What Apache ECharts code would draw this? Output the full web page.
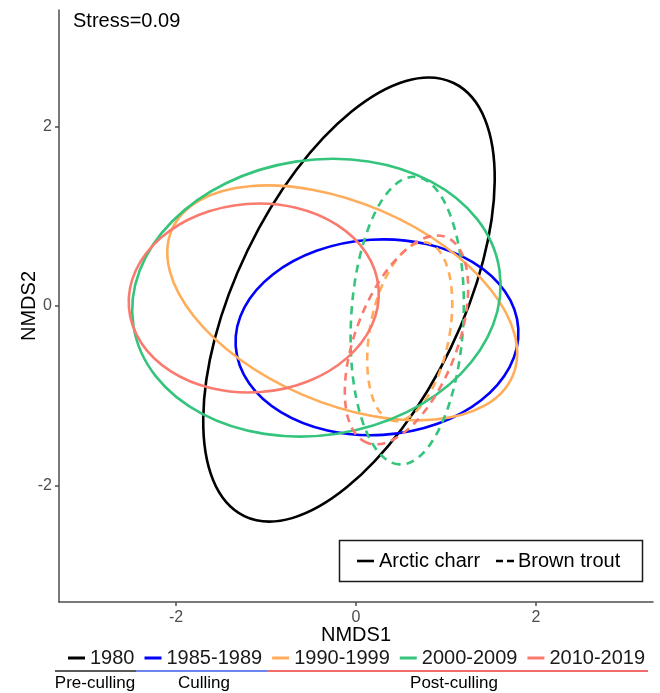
<!DOCTYPE html>
<html>
<head>
<meta charset="utf-8">
<script src="https://cdn.jsdelivr.net/npm/echarts@6/dist/echarts.min.js"></script>
<style>
  html, body { margin: 0; padding: 0; background: #fff; }
  #main { width: 660px; height: 693px; }
</style>
</head>
<body>
<div id="main"></div>
<script>
// periods (one colour each)
var periods = ['1980', '1985-1989', '1990-1999', '2000-2009', '2010-2019'];
var periodColors = ['#000000', '#0000FF', '#FFAD5A', '#34C47C', '#FA7A6E'];
// ellipse = [centre NMDS1, centre NMDS2, semi-major, semi-minor, angle deg]
var charrEllipses = [
  [-0.078, 0.072, 2.672, 1.252, 64.2],
  [0.233, -0.349, 1.573, 1.086, 3.5],
  [-0.153, 0.035, 2.06, 1.112, -23.2],
  [-0.44, 0.093, 2.057, 1.529, 8.7],
  [-1.136, 0.089, 1.391, 1.048, 4.3]
];
var troutEllipses = [
  null,
  null,
  [0.597, -0.286, 1.008, 0.442, 79.4],
  [0.569, -0.163, 1.6, 0.624, 86.9],
  [0.561, -0.378, 1.224, 0.564, 69]
];
var tickValues = [-2, 0, 2];
var phases = ['Pre-culling', 'Culling', 'Post-culling'];
var stressText = 'Stress=0.09';

var FONT = 'Liberation Sans, Arial, sans-serif';
var myChart = echarts.init(document.getElementById('main'));

function ellipseItem(params, api) {
  var c = api.coord([api.value(0), api.value(1)]);
  var rx = api.size([api.value(2), api.value(2)])[0];
  var ry = api.size([api.value(3), api.value(3)])[0];
  var dashed = api.value(5) === 1;
  return {
    type: 'ellipse',
    x: c[0],
    y: c[1],
    rotation: api.value(4) * Math.PI / 180,
    shape: { cx: 0, cy: 0, rx: rx, ry: ry },
    style: {
      fill: 'none',
      stroke: api.visual('color'),
      lineWidth: 2.6,
      lineDash: dashed ? [8, 6] : null
    }
  };
}

let series = periods.map(function (p, i) {
  let data = [charrEllipses[i].concat([0])];
  if (troutEllipses[i]) data.push(troutEllipses[i].concat([1]));
  return {
    name: p,
    type: 'custom',
    renderItem: ellipseItem,
    itemStyle: { color: periodColors[i] },
    encode: { x: 0, y: 1 },
    data: data,
    silent: true
  };
});

var axisCommon = {
  type: 'value',
  min: -3.3,
  max: 3.3,
  splitLine: { show: false },
  axisLine: { onZero: false, lineStyle: { color: '#4d4d4d', width: 1.5 } },
  axisTick: { length: 4, lineStyle: { color: '#4d4d4d', width: 1.5 }, customValues: tickValues },
  axisLabel: { color: '#4d4d4d', fontSize: 16, fontFamily: FONT, customValues: tickValues },
  nameLocation: 'middle',
  nameMoveOverlap: false,
  nameTextStyle: { color: '#000', fontSize: 20, fontFamily: FONT }
};

let option = {
  animation: false,
  backgroundColor: '#fff',
  grid: { left: 59, top: 10, width: 594, height: 592, containLabel: false },
  xAxis: Object.assign({}, axisCommon, {
    name: 'NMDS1', nameGap: 23,
    axisLabel: Object.assign({}, axisCommon.axisLabel, { margin: 8 })
  }),
  yAxis: Object.assign({}, axisCommon, {
    name: 'NMDS2', nameGap: 20,
    axisLabel: Object.assign({}, axisCommon.axisLabel, { margin: 7 })
  }),
  legend: {
    data: periods,
    left: 68,
    top: 648,
    padding: 0,
    icon: 'rect',
    itemWidth: 17,
    itemHeight: 3,
    itemGap: 10,
    selectedMode: false,
    textStyle: { color: '#1a1a1a', fontSize: 20, fontFamily: FONT }
  },
  graphic: [
    { type: 'text', left: 73, top: 11, style: { text: stressText, fontSize: 20, fontFamily: FONT, fill: '#000' } },
    // species key
    { type: 'rect', shape: { x: 339.5, y: 540.5, width: 303, height: 41 }, style: { fill: '#fff', stroke: '#1a1a1a', lineWidth: 1.5 } },
    { type: 'line', shape: { x1: 357, y1: 561, x2: 374, y2: 561 }, style: { stroke: '#000', lineWidth: 2.6 } },
    { type: 'text', x: 379, y: 561, style: { text: 'Arctic charr', fontSize: 20, fontFamily: FONT, fill: '#000', verticalAlign: 'middle' } },
    { type: 'line', shape: { x1: 496, y1: 561, x2: 514, y2: 561 }, style: { stroke: '#000', lineWidth: 2.6, lineDash: [7, 4] } },
    { type: 'text', x: 518, y: 561, style: { text: 'Brown trout', fontSize: 20, fontFamily: FONT, fill: '#000', verticalAlign: 'middle' } },
    // culling phases
    { type: 'line', shape: { x1: 55, y1: 671, x2: 136, y2: 671 }, style: { stroke: '#222', lineWidth: 1.6 } },
    { type: 'line', shape: { x1: 136, y1: 671, x2: 267, y2: 671 }, style: { stroke: '#3a5ce8', lineWidth: 1.6 } },
    { type: 'line', shape: { x1: 267, y1: 671, x2: 648, y2: 671 }, style: { stroke: '#f03a3a', lineWidth: 1.6 } },
    { type: 'text', x: 95, y: 683, style: { text: phases[0], fontSize: 17, fontFamily: FONT, fill: '#000', align: 'center', verticalAlign: 'middle' } },
    { type: 'text', x: 204, y: 683, style: { text: phases[1], fontSize: 17, fontFamily: FONT, fill: '#000', align: 'center', verticalAlign: 'middle' } },
    { type: 'text', x: 454, y: 683, style: { text: phases[2], fontSize: 17, fontFamily: FONT, fill: '#000', align: 'center', verticalAlign: 'middle' } }
  ],
  series: series
};

myChart.setOption(option);
</script>
</body>
</html>
